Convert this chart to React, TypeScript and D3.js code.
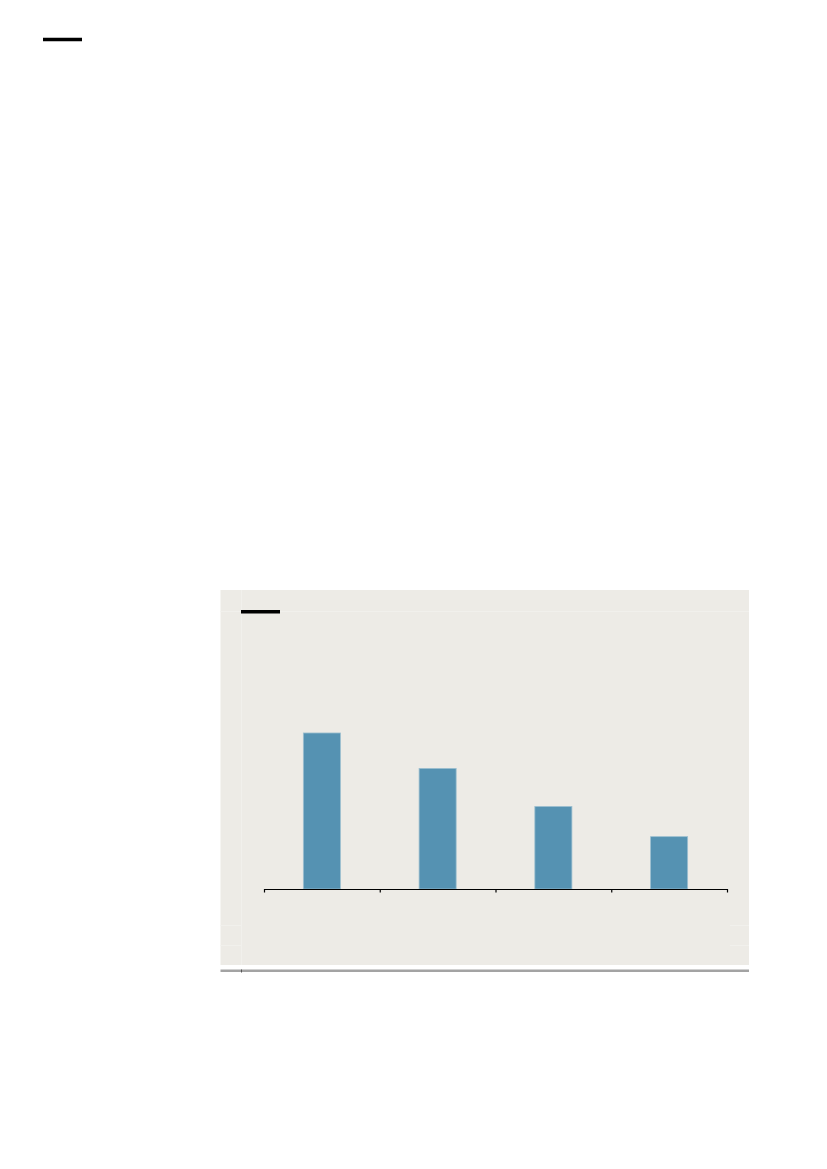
import React from 'react';
import * as d3 from 'd3';

// Chart values (no labels are drawn in the reference)
const CATEGORIES = ['Q1', 'Q2', 'Q3', 'Q4'];
const VALUES = [5.9, 4.56, 3.12, 1.98];
const Y_MAX = 9;

const W = 827;
const H = 1169;

const PANEL = { x: 220.5, y: 590, w: 528.5, h: 375 };
const PLOT = { left: 264, right: 727, top: 651, bottom: 889 };

const BAR_FILL = '#5592b2';
const BAR_STROKE = '#9cbfd0';
const PANEL_FILL = '#edebe6';
const GRID_FAINT = '#f1f0ec';

const App: React.FC = () => {
  const x = d3
    .scaleBand<string>()
    .domain(CATEGORIES)
    .range([PLOT.left, PLOT.right])
    .paddingInner(0.68)
    .paddingOuter(0.34);

  const y = d3.scaleLinear().domain([0, Y_MAX]).range([PLOT.bottom, PLOT.top]);

  // tick positions sit on the band boundaries
  const boundary = d3
    .scaleLinear()
    .domain([0, CATEGORIES.length])
    .range([PLOT.left, PLOT.right]);
  const tickVals = d3.range(0, CATEGORIES.length + 1);

  const axisRef = React.useRef<SVGGElement>(null);
  React.useEffect(() => {
    if (!axisRef.current) return;
    const g = d3.select(axisRef.current);
    g.selectAll('*').remove();
    g.call(
      d3
        .axisBottom(boundary)
        .tickValues(tickVals)
        .tickFormat(() => '')
        .tickSize(3.5)
        .tickSizeOuter(0)
    );
    g.select('.domain').attr('stroke', '#000').attr('stroke-width', 1.2);
    g.selectAll('.tick line').attr('stroke', '#000').attr('stroke-width', 1.2);
  }, []);

  return (
    <div style={{ position: 'absolute', left: 0, top: 0, width: W, height: H, background: '#fff' }}>
      <svg width={W} height={H}>
        {/* header rule at page top */}
        <line x1={43} x2={82} y1={39.5} y2={39.5} stroke="#000" strokeWidth={3.4} />

        {/* chart panel */}
        <rect x={PANEL.x} y={PANEL.y} width={PANEL.w} height={PANEL.h} fill={PANEL_FILL} />
        <line x1={241.5} x2={241.5} y1={PANEL.y} y2={PANEL.y + PANEL.h} stroke={GRID_FAINT} strokeWidth={1} />
        <line x1={PANEL.x} x2={PANEL.x + PANEL.w} y1={611.5} y2={611.5} stroke={GRID_FAINT} strokeWidth={1} />
        {[925.5, 945.5].map((yy) => (
          <g key={yy}>
            <line x1={PANEL.x} x2={241} y1={yy} y2={yy} stroke={GRID_FAINT} strokeWidth={1} />
            <line x1={730} x2={PANEL.x + PANEL.w} y1={yy} y2={yy} stroke={GRID_FAINT} strokeWidth={1} />
          </g>
        ))}

        {/* legend/title rule */}
        <line x1={241} x2={280} y1={611.8} y2={611.8} stroke="#000" strokeWidth={3.4} />

        {/* bars */}
        {CATEGORIES.map((c, i) => (
          <rect
            key={c}
            x={x(c)}
            y={y(VALUES[i])}
            width={x.bandwidth()}
            height={y(0) - y(VALUES[i])}
            fill={BAR_FILL}
            stroke={BAR_STROKE}
            strokeWidth={0.8}
          />
        ))}

        {/* x axis */}
        <g ref={axisRef} transform={`translate(0,${PLOT.bottom})`} />

        {/* bottom source rule */}
        <line x1={PANEL.x} x2={PANEL.x + PANEL.w} y1={970.8} y2={970.8} stroke="#a3a3a3" strokeWidth={2.4} />
        <line x1={241.5} x2={241.5} y1={969.5} y2={972.5} stroke="#555" strokeWidth={1} />
      </svg>
    </div>
  );
};

export default App;
